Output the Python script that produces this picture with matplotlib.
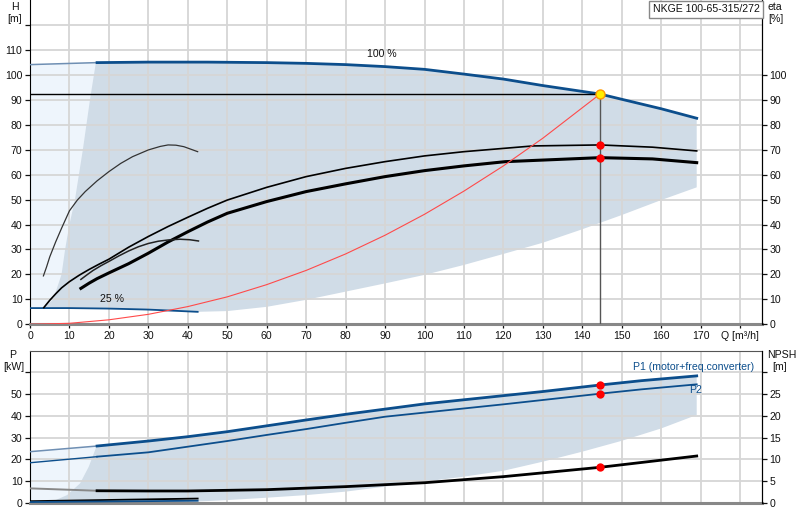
import matplotlib
matplotlib.use('Agg')
import matplotlib.pyplot as plt
import numpy as np

plt.rcParams['font.family'] = ['Liberation Sans', 'DejaVu Sans']

# ---------------- data ----------------
# 100 % speed head curve
q_head = [0, 17, 30, 45, 60, 70, 80, 90, 100, 110, 120, 130, 144.5, 150, 160, 169]
h_head = [104.1, 104.9, 105.1, 105.1, 104.9, 104.6, 104.1, 103.3, 102.2, 100.3, 98.3, 95.7, 92.3, 90.2, 86.4, 82.6]
# 25 % speed head curve
q_h25 = [0, 10, 20, 30, 42.5]
h_h25 = [6.5, 6.5, 6.3, 5.9, 5.0]
# lower edge of the operating range (top panel)
q_low = [42.5, 50, 60, 70, 80, 90, 100, 110, 120, 130, 140, 150, 160, 169]
h_low = [5.0, 5.3, 7.0, 9.8, 13.1, 16.4, 19.8, 23.8, 28.2, 32.7, 38.1, 43.8, 49.8, 54.9]
# left edge of the operating range (top panel)
q_left = [3.4, 5.9, 8.0, 8.9, 10.0, 11.4, 12.4, 13.4, 14.3, 15.2, 16.7]
h_left = [6.6, 10, 20, 30, 40, 50, 60, 70, 80, 90, 104.9]
# efficiency curves (eta, %)
q_eta1 = [3.5, 5, 6.5, 8, 10, 12.5, 15, 17.5, 20, 25, 30, 35, 40, 45, 50, 60, 70, 80, 90, 100, 110, 127.5, 144.5, 157.8, 169]
e_eta1 = [6.7, 9.6, 12.2, 14.6, 17.1, 19.7, 22.0, 24.1, 26.1, 30.9, 35.2, 39.2, 42.9, 46.5, 49.8, 54.9, 59.2, 62.5, 65.2, 67.5, 69.2, 71.5, 71.9, 71.0, 69.5]
q_eta2 = [12.9, 15, 17, 20, 25, 30, 35, 40, 45, 50, 60, 70, 80, 90, 100, 110, 120.5, 144.5, 157.8, 169]
e_eta2 = [14.4, 16.5, 18.3, 20.6, 24.3, 28.5, 33.0, 37.1, 41.0, 44.5, 49.2, 53.2, 56.3, 59.2, 61.6, 63.5, 65.2, 66.8, 66.3, 64.8]
q_eta25a = [3.4, 4.2, 5, 6.5, 8, 10, 12, 14, 17, 20, 23, 26, 30, 33, 35, 37, 39, 42.5]
e_eta25a = [19.4, 23.0, 27.0, 33.0, 38.5, 45.5, 49.8, 53.2, 57.5, 61.2, 64.5, 67.2, 69.9, 71.3, 71.9, 71.8, 71.2, 69.2]
q_eta25b = [12.9, 14.5, 16, 18, 20, 22.5, 25, 27.5, 30, 32.5, 35, 38, 40.5, 42.7]
e_eta25b = [18.0, 19.9, 21.6, 23.5, 25.2, 27.4, 29.4, 31.1, 32.4, 33.3, 33.8, 34.1, 33.9, 33.4]
# system curve
q_sys = [0, 10, 20, 30, 40, 50, 60, 70, 80, 90, 100, 110, 120, 130, 144.5]
h_sys = [0, 0.4, 1.8, 4.0, 7.1, 11.0, 15.9, 21.6, 28.2, 35.7, 44.1, 53.4, 63.5, 74.6, 92.3]
# duty point
q_duty = 144.5
h_duty = 92.3
eta_duty = [71.9, 66.8]

# power curves (kW)
q_p = [0, 17, 30, 40, 50, 60, 70, 80, 90, 100, 110, 120, 130, 144.5, 155, 169]
p1 = [23.5, 26.1, 28.4, 30.4, 32.7, 35.4, 38.1, 40.7, 43.1, 45.5, 47.4, 49.3, 51.2, 54.2, 56.2, 58.4]
p2 = [18.4, 21.2, 23.2, 25.8, 28.4, 31.2, 33.9, 36.8, 39.6, 41.5, 43.4, 45.3, 47.3, 50.2, 52.2, 54.5]
# lower edge of power range
q_plow = [1, 30, 42, 50, 60, 70, 80, 90, 100, 110, 120, 130, 140, 150, 160, 169]
p_plow = [0, 0, 0.5, 1.2, 2.3, 3.5, 5.1, 7.4, 9.7, 12.0, 14.7, 18.9, 23.5, 28.5, 34.2, 40.4]
q_pleft = [1, 6, 9.4, 12.7, 14.9, 16.9]
p_pleft = [0, 0.8, 3.5, 8.9, 16.6, 26.1]
# 25 % speed power curves
q_p25 = [0, 42.5]
p1_25 = [0.7, 1.9]
p2_25 = [0.3, 0.9]
# NPSH (m)
q_npsh = [0, 17, 30, 40, 60, 80, 100, 120, 144.5, 169]
npsh = [3.3, 2.75, 2.7, 2.7, 3.0, 3.7, 4.6, 6.0, 8.15, 10.75]
p_duty = [54.2, 50.2]
npsh_duty = 8.15

x_ticks = list(range(0, 190, 10))
x_labels = [str(v) for v in range(0, 180, 10)] + ['Q [m³/h]']

# ---------------- style ----------------
DARK = '#0c4e8c'
LIGHTLINE = '#6f8fb3'
GRAY_FILL = '#d0dce7'
LIGHT_FILL = '#eef5fc'
GRID = '#d6d6d6'
FS = 7.6

fig = plt.figure(figsize=(8, 5.2), dpi=100)
W, H = 800, 520
ax = fig.add_axes([30 / W, (H - 324.3) / H, 732 / W, 324.3 / H])
bx = fig.add_axes([30 / W, (H - 502.7) / H, 732 / W, 152 / H])

xmax = 732 / 3.945

def qsel(qs, vs, lo, hi):
    qs = np.asarray(qs, float); vs = np.asarray(vs, float)
    m = (qs >= lo) & (qs <= hi)
    return qs[m], vs[m]

# ---------- top panel ----------
ax.set_xlim(0, xmax)
ax.set_ylim(0, 130)
qa, ha = qsel(q_head, h_head, 0, 17)
ax.fill(np.concatenate([[0], qa, [17, 0]]), np.concatenate([[6.5], ha, [6.4, 6.5]]),
        color=LIGHT_FILL, lw=0, zorder=0.2)
qt, ht = qsel(q_head, h_head, 16.7, 169)
qt = np.concatenate([[16.7], qt]); ht = np.concatenate([[104.9], ht])
q25r, h25r = np.asarray(q_h25[::-1], float), np.asarray(h_h25[::-1], float)
m = q25r >= 3.4
poly_q = np.concatenate([qt, np.asarray(q_low[::-1]), q25r[m][1:], [3.4], np.asarray(q_left)])
poly_h = np.concatenate([ht, np.asarray(h_low[::-1]), h25r[m][1:], [6.6], np.asarray(h_left)])
ax.fill(poly_q, poly_h, color=GRAY_FILL, lw=0, zorder=0.3)

ax.set_xticks(x_ticks)
ax.set_xticklabels(x_labels)
ax.set_yticks(range(0, 130, 10))
ax.set_yticklabels([str(v) for v in range(0, 120, 10)] + [''])
ax.grid(True, color=GRID, lw=1.3)
ax.set_axisbelow(True)

qa, ha = qsel(q_head, h_head, 0, 17)
ax.plot(qa, ha, color=LIGHTLINE, lw=1.1, zorder=3)
qb, hb = qsel(q_head, h_head, 17, 169)
ax.plot(qb, hb, color=DARK, lw=2.0, zorder=3)
ax.plot(q_h25, h_h25, color=DARK, lw=1.3, zorder=3)
ax.plot(q_eta1, e_eta1, color='black', lw=1.2, zorder=3)
ax.plot(q_eta2, e_eta2, color='black', lw=2.2, zorder=3)
ax.plot(q_eta25a, e_eta25a, color='#333333', lw=0.9, zorder=3)
ax.plot(q_eta25b, e_eta25b, color='#222222', lw=1.1, zorder=3)
ax.plot(q_sys, h_sys, color='#ff4a4a', lw=0.8, zorder=3)
ax.plot([0, q_duty], [h_duty, h_duty], color='black', lw=1.0, zorder=3)
ax.plot([q_duty, q_duty], [0, h_duty], color='#555555', lw=1.0, zorder=3)
ax.plot([q_duty] * 2, eta_duty, 'o', color='red', ms=6, zorder=5, mec='none')
ax.plot([q_duty], [h_duty], 'o', color='#ffee00', mec='#ff9900', mew=1.0, ms=6.5, zorder=6)

ax.text(89.3, 108.3, '100 %', fontsize=FS, ha='center', va='center', color='#111111')
ax.text(20.8, 10.2, '25 %', fontsize=FS, ha='center', va='center', color='#111111')

ax.spines['top'].set_visible(False)
ax.spines['left'].set_color('black')
ax.spines['right'].set_color('black')
ax.spines['bottom'].set_color('#888888')
ax.spines['bottom'].set_linewidth(2.2)
ax.tick_params(axis='both', labelsize=FS, colors='#111111', length=3.5, width=0.9, pad=2)
ax.tick_params(axis='x', length=3)

axr = ax.twinx()
axr.set_ylim(0, 130)
axr.set_yticks(range(0, 110, 10))
axr.tick_params(axis='y', labelsize=FS, colors='#111111', length=3.5, width=0.9, pad=2)
for s in ['top', 'left', 'bottom']:
    axr.spines[s].set_visible(False)
axr.spines['right'].set_color('black')

# ---------- bottom panel ----------
bx.set_xlim(0, xmax)
bx.set_ylim(0, 70)
qa, pa = qsel(q_p, p1, 0, 17)
bx.fill(np.concatenate([[0], qa, [17, 0]]), np.concatenate([[0], pa, [0, 0]]),
        color=LIGHT_FILL, lw=0, zorder=0.2)
qt, pt = qsel(q_p, p1, 16.9, 169)
bpoly_q = np.concatenate([qt, np.asarray(q_plow[::-1]), np.asarray(q_pleft)])
bpoly_p = np.concatenate([pt, np.asarray(p_plow[::-1]), np.asarray(p_pleft)])
bx.fill(bpoly_q, bpoly_p, color=GRAY_FILL, lw=0, zorder=0.3)

bx.set_xticks(x_ticks)
bx.set_xticklabels([])
bx.set_yticks(range(0, 70, 10))
bx.set_yticklabels([str(v) for v in range(0, 60, 10)] + [''])
bx.grid(True, color=GRID, lw=1.3)
bx.set_axisbelow(True)

qa, pa = qsel(q_p, p1, 0, 17)
bx.plot(qa, pa, color=LIGHTLINE, lw=1.1, zorder=3)
qb, pb = qsel(q_p, p1, 17, 169)
bx.plot(qb, pb, color=DARK, lw=2.0, zorder=3)
qa, pa = qsel(q_p, p2, 0, 17)
bx.plot(qa, pa, color=DARK, lw=1.0, zorder=3)
qb, pb = qsel(q_p, p2, 17, 169)
bx.plot(qb, pb, color=DARK, lw=1.3, zorder=3)
bx.plot(q_p25, p1_25, color='black', lw=1.3, zorder=3)
bx.plot(q_p25, p2_25, color=DARK, lw=1.3, zorder=3)
bx.plot([q_duty] * 2, p_duty, 'o', color='red', ms=6, zorder=5, mec='none')
bx.text(183.5, 62.4, 'P1 (motor+freq.converter)', fontsize=FS, color=DARK, ha='right', va='center')
bx.text(167, 51.8, 'P2', fontsize=FS, color=DARK, ha='left', va='center')

bx.spines['top'].set_color('#555555')
bx.spines['left'].set_color('black')
bx.spines['right'].set_color('black')
bx.spines['bottom'].set_color('#888888')
bx.spines['bottom'].set_linewidth(2.2)
bx.tick_params(axis='y', labelsize=FS, colors='#111111', length=3.5, width=0.9, pad=2)
bx.tick_params(axis='x', length=0)

bxr = bx.twinx()
bxr.set_ylim(0, 35)
bxr.set_yticks(range(0, 35, 5))
bxr.set_yticklabels([str(v) for v in range(0, 30, 5)] + [''])
bxr.tick_params(axis='y', labelsize=FS, colors='#111111', length=3.5, width=0.9, pad=2)
for s in ['top', 'left', 'bottom']:
    bxr.spines[s].set_visible(False)
bxr.spines['right'].set_color('black')
qa, na = qsel(q_npsh, npsh, 0, 17)
bxr.plot(qa, na, color='#888888', lw=1.4, zorder=3)
qb, nb = qsel(q_npsh, npsh, 17, 169)
bxr.plot(qb, nb, color='black', lw=2.0, zorder=3)
bxr.plot([q_duty], [npsh_duty], 'o', color='red', ms=6, zorder=5, mec='none')

# ---------- axis titles / legend box ----------
def ftext(x, y, s, **kw):
    fig.text(x / W, 1 - y / H, s, fontsize=FS, color='#111111', **kw)

ftext(15, 7, 'H', ha='center', va='center')
ftext(15, 19, '[m]', ha='center', va='center')
ftext(768, 7, 'eta', ha='left', va='center')
ftext(768, 19, '[%]', ha='left', va='center')
ftext(13, 355, 'P', ha='center', va='center')
ftext(14, 367, '[kW]', ha='center', va='center')
ftext(767, 355, 'NPSH', ha='left', va='center')
ftext(780, 367, '[m]', ha='center', va='center')
fig.text(706 / W, 1 - 9.5 / H, 'NKGE 100-65-315/272', fontsize=FS, color='#111111',
         ha='center', va='center',
         bbox=dict(boxstyle='square,pad=0.35', fc='white', ec='#888888', lw=1.0))

fig.savefig('out.png', dpi=100)
